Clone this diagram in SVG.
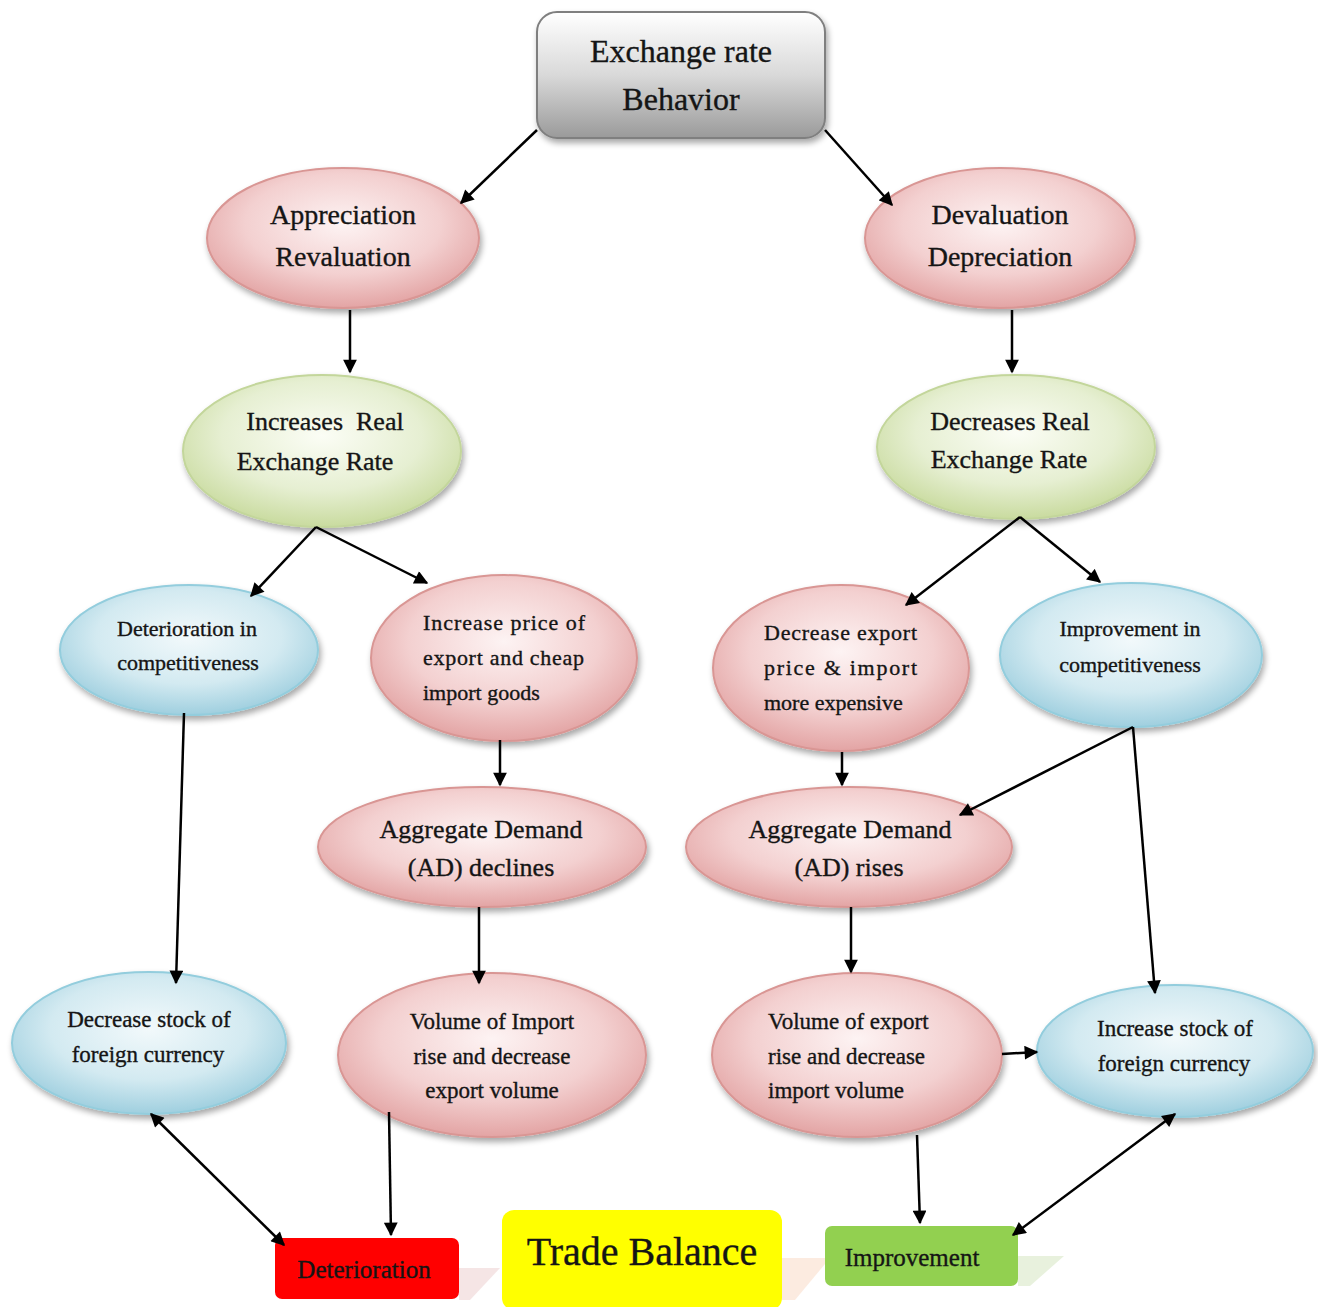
<svg xmlns="http://www.w3.org/2000/svg" width="1318" height="1307" viewBox="0 0 1318 1307">
<defs>
<linearGradient id="gGray" x1="0" y1="0" x2="0" y2="1">
<stop offset="0" stop-color="#ffffff"/><stop offset="0.5" stop-color="#d9d9d9"/><stop offset="1" stop-color="#9a9a9a"/>
</linearGradient>
<radialGradient id="gPink" cx="0.5" cy="0.4" r="0.6">
<stop offset="0" stop-color="#fdf3f3"/><stop offset="0.6" stop-color="#f3d0d0"/><stop offset="1" stop-color="#e3a4a4"/>
</radialGradient>
<radialGradient id="gGreen" cx="0.5" cy="0.4" r="0.6">
<stop offset="0" stop-color="#fbfdf5"/><stop offset="0.6" stop-color="#e6efd2"/><stop offset="1" stop-color="#c9db9f"/>
</radialGradient>
<radialGradient id="gBlue" cx="0.5" cy="0.4" r="0.6">
<stop offset="0" stop-color="#f2f9fb"/><stop offset="0.6" stop-color="#d3eaf1"/><stop offset="1" stop-color="#9fcfdf"/>
</radialGradient>
<filter id="sh" x="-10%" y="-10%" width="125%" height="130%">
<feGaussianBlur in="SourceAlpha" stdDeviation="3"/>
<feOffset dx="2" dy="4" result="b"/>
<feComponentTransfer><feFuncA type="linear" slope="0.35"/></feComponentTransfer>
<feMerge><feMergeNode/><feMergeNode in="SourceGraphic"/></feMerge>
</filter>
<marker id="ah" viewBox="0 0 10 10" refX="9" refY="5" markerWidth="6" markerHeight="5.5" orient="auto-start-reverse" markerUnits="strokeWidth">
<path d="M0,0 L10,5 L0,10 z" fill="#000"/>
</marker>
</defs>
<style>
.t{font-family:"Liberation Serif","Times New Roman",serif;fill:#151515;stroke:#151515;stroke-width:0.35;text-anchor:middle}
.pink{fill:url(#gPink);stroke:#d99694;stroke-width:2}
.green{fill:url(#gGreen);stroke:#c3d69b;stroke-width:2}
.blue{fill:url(#gBlue);stroke:#93cddd;stroke-width:2}
.c{stroke:#000;stroke-width:2.5;fill:none;marker-end:url(#ah)}
.d{marker-start:url(#ah)}
.s22{font-size:22px}.s23{font-size:23px}.s26{font-size:26px}.s28{font-size:28px}
</style>
<rect width="1318" height="1307" fill="#fff"/>

<g id="reflections">
<polygon points="459,1268 500,1268 470,1300 459,1300" fill="#f2dede" opacity="0.8"/>
<polygon points="782,1258 830,1258 795,1300 782,1300" fill="#fbe6d8" opacity="0.8"/>
<polygon points="1018,1256 1064,1256 1030,1286 1018,1286" fill="#e6efd9" opacity="0.9"/>
</g>

<g id="n-top">
<rect x="537" y="12" width="288" height="126" rx="20" fill="url(#gGray)" stroke="#7f7f7f" stroke-width="2" filter="url(#sh)"/>
<text class="t" x="681" y="62" font-size="32">Exchange rate</text>
<text class="t" x="681" y="110" font-size="32">Behavior</text>
</g>

<g id="n-appreciation">
<ellipse class="pink" cx="343" cy="238" rx="136" ry="70" filter="url(#sh)"/>
<text class="t s28" x="343" y="224">Appreciation</text>
<text class="t s28" x="343" y="266">Revaluation</text>
</g>
<g id="n-devaluation">
<ellipse class="pink" cx="1000" cy="238" rx="135" ry="70" filter="url(#sh)"/>
<text class="t s28" x="1000" y="224">Devaluation</text>
<text class="t s28" x="1000" y="266">Depreciation</text>
</g>

<g id="n-increases-rer">
<ellipse class="green" cx="322" cy="451" rx="139" ry="76" filter="url(#sh)"/>
<text class="t s26" x="325" y="430" xml:space="preserve">Increases  Real</text>
<text class="t s26" x="315" y="470">Exchange Rate</text>
</g>
<g id="n-decreases-rer">
<ellipse class="green" cx="1016" cy="447" rx="139" ry="72" filter="url(#sh)"/>
<text class="t s26" x="1010" y="430">Decreases Real</text>
<text class="t s26" x="1009" y="468">Exchange Rate</text>
</g>

<g id="n-det-comp">
<ellipse class="blue" cx="189" cy="650" rx="129" ry="65" filter="url(#sh)"/>
<text class="t s22" x="187" y="636">Deterioration in</text>
<text class="t s22" x="188" y="670">competitiveness</text>
</g>
<g id="n-inc-price">
<ellipse class="pink" cx="504" cy="658" rx="133" ry="83" filter="url(#sh)"/>
<text class="t s22" x="423" y="630" style="text-anchor:start" textLength="162" lengthAdjust="spacing">Increase price of</text>
<text class="t s22" x="423" y="665" style="text-anchor:start" textLength="161" lengthAdjust="spacing">export and cheap</text>
<text class="t s22" x="423" y="700" style="text-anchor:start">import goods</text>
</g>
<g id="n-dec-price">
<ellipse class="pink" cx="841" cy="668" rx="128" ry="83" filter="url(#sh)"/>
<text class="t s22" x="764" y="640" style="text-anchor:start" textLength="153" lengthAdjust="spacing">Decrease export</text>
<text class="t s22" x="764" y="675" style="text-anchor:start" textLength="153" lengthAdjust="spacing">price &amp; import</text>
<text class="t s22" x="764" y="710" style="text-anchor:start">more expensive</text>
</g>
<g id="n-imp-comp">
<ellipse class="blue" cx="1131" cy="655" rx="131" ry="72" filter="url(#sh)"/>
<text class="t s22" x="1130" y="636">Improvement in</text>
<text class="t s22" x="1130" y="672">competitiveness</text>
</g>

<g id="n-ad-declines">
<ellipse class="pink" cx="482" cy="847" rx="164" ry="60" filter="url(#sh)"/>
<text class="t s26" x="481" y="838">Aggregate Demand</text>
<text class="t s26" x="481" y="876">(AD) declines</text>
</g>
<g id="n-ad-rises">
<ellipse class="pink" cx="849" cy="847" rx="163" ry="60" filter="url(#sh)"/>
<text class="t s26" x="850" y="838">Aggregate Demand</text>
<text class="t s26" x="849" y="876">(AD) rises</text>
</g>

<g id="n-dec-stock">
<ellipse class="blue" cx="149" cy="1043" rx="137" ry="71" filter="url(#sh)"/>
<text class="t s23" x="149" y="1027">Decrease stock of</text>
<text class="t s23" x="148" y="1062">foreign currency</text>
</g>
<g id="n-vol-import">
<ellipse class="pink" cx="492" cy="1055" rx="154" ry="82" filter="url(#sh)"/>
<text class="t s23" x="492" y="1029">Volume of Import</text>
<text class="t s23" x="492" y="1064">rise and decrease</text>
<text class="t s23" x="492" y="1098">export volume</text>
</g>
<g id="n-vol-export">
<ellipse class="pink" cx="857" cy="1055" rx="145" ry="82" filter="url(#sh)"/>
<text class="t s23" x="768" y="1029" style="text-anchor:start">Volume of export</text>
<text class="t s23" x="768" y="1064" style="text-anchor:start">rise and decrease</text>
<text class="t s23" x="768" y="1098" style="text-anchor:start">import volume</text>
</g>
<g id="n-inc-stock">
<ellipse class="blue" cx="1175" cy="1051" rx="138" ry="66" filter="url(#sh)"/>
<text class="t s23" x="1175" y="1036">Increase stock of</text>
<text class="t s23" x="1174" y="1071">foreign currency</text>
</g>

<g id="n-deterioration">
<rect x="275" y="1238" width="184" height="61" rx="7" fill="#ff0000"/>
<text class="t" x="364" y="1278" font-size="25">Deterioration</text>
</g>
<g id="n-trade-balance">
<rect x="502" y="1210" width="280" height="100" rx="12" fill="#ffff00"/>
<text class="t" x="642" y="1265" font-size="40">Trade Balance</text>
</g>
<g id="n-improvement">
<rect x="825" y="1226" width="193" height="60" rx="7" fill="#92d050"/>
<text class="t" x="912" y="1266" font-size="25">Improvement</text>
</g>

<g id="connectors">
<line class="c" x1="537" y1="130" x2="461" y2="203"/>
<line class="c" x1="825" y1="130" x2="892" y2="205"/>
<line class="c" x1="350" y1="310" x2="350" y2="372"/>
<line class="c" x1="1012" y1="310" x2="1012" y2="372"/>
<line class="c" x1="316" y1="527" x2="251" y2="596"/>
<line class="c" x1="316" y1="527" x2="427" y2="583"/>
<line class="c" x1="1020" y1="517" x2="906" y2="605"/>
<line class="c" x1="1020" y1="517" x2="1100" y2="582"/>
<line class="c" x1="184" y1="713" x2="176" y2="983"/>
<line class="c" x1="500" y1="740" x2="500" y2="785"/>
<line class="c" x1="842" y1="752" x2="842" y2="785"/>
<line class="c" x1="1133" y1="727" x2="960" y2="815"/>
<line class="c" x1="1133" y1="727" x2="1155" y2="993"/>
<line class="c" x1="479" y1="907" x2="479" y2="983"/>
<line class="c" x1="851" y1="907" x2="851" y2="972"/>
<line class="c" x1="1002" y1="1054" x2="1037" y2="1052"/>
<line class="c d" x1="151" y1="1114" x2="284" y2="1245"/>
<line class="c" x1="389" y1="1112" x2="391" y2="1235"/>
<line class="c" x1="917" y1="1135" x2="920" y2="1223"/>
<line class="c d" x1="1175" y1="1114" x2="1013" y2="1235"/>
</g>
</svg>
